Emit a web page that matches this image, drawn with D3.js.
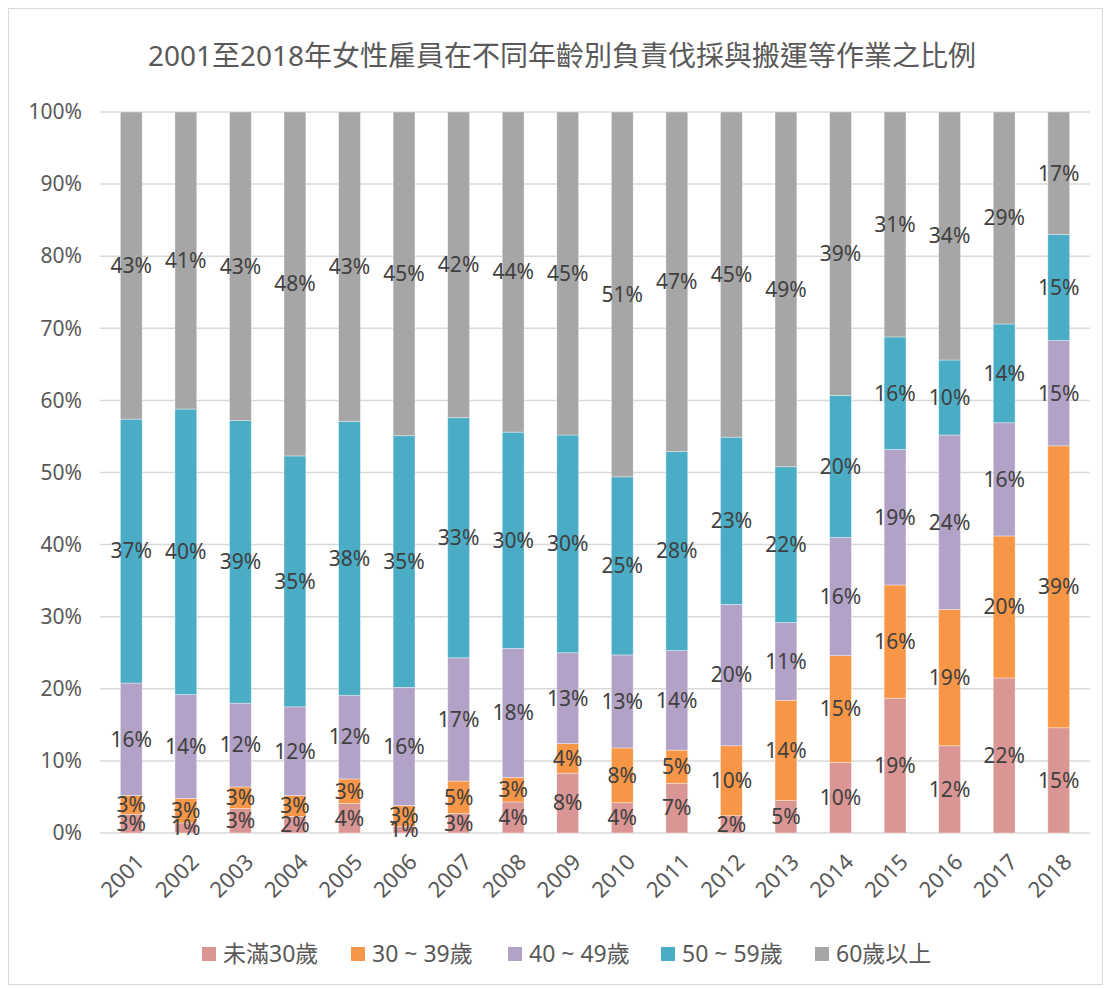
<!DOCTYPE html>
<html>
<head>
<meta charset="utf-8">
<script src="https://cdn.jsdelivr.net/npm/d3@7"></script>
<style>
  body { margin: 0; background: #fff; }
  svg text { font-family: "Noto Sans", "Noto Sans CJK TC", sans-serif; }
</style>
</head>
<body>
<div id="chart"></div>
<script>
const years = ["2001","2002","2003","2004","2005","2006","2007","2008","2009",
               "2010","2011","2012","2013","2014","2015","2016","2017","2018"];
const seriesNames = ["未滿30歲", "30 ~ 39歲", "40 ~ 49歲", "50 ~ 59歲", "60歲以上"];

// share of each age group per year (%)
const under30 = [2.6, 1.4, 3.4, 2.3, 4.1, 0.9, 2.7, 4.3, 8.3, 4.2, 6.9, 2.4, 4.5, 9.8, 18.7, 12.1, 21.5, 14.6];
const age30s  = [2.6, 3.4, 3.0, 2.9, 3.4, 2.9, 4.5, 3.4, 4.1, 7.6, 4.6, 9.7, 13.9, 14.8, 15.7, 18.9, 19.7, 39.1];
const age40s  = [15.6, 14.4, 11.6, 12.3, 11.6, 16.4, 17.1, 17.9, 12.6, 12.9, 13.8, 19.6, 10.8, 16.4, 18.8, 24.2, 15.7, 14.6];
const age50s  = [36.6, 39.6, 39.2, 34.8, 38.0, 34.9, 33.3, 30.0, 30.2, 24.7, 27.6, 23.2, 21.6, 19.7, 15.6, 10.4, 13.7, 14.7];
const over60  = [42.6, 41.2, 42.8, 47.7, 42.9, 44.9, 42.4, 44.4, 44.8, 50.6, 47.1, 45.1, 49.2, 39.3, 31.2, 34.4, 29.4, 17.0];

const yTicks = [0, 10, 20, 30, 40, 50, 60, 70, 80, 90, 100];
const colors = ["#d99694", "#f79646", "#b3a2c7", "#4bacc6", "#a6a6a6"];

const W = 1106, H = 988;
const plot = {left: 104, right: 1086, top: 112, bottom: 833};

const data = years.map((y, i) => ({
  year: y, s0: under30[i], s1: age30s[i], s2: age40s[i], s3: age50s[i], s4: over60[i]
}));
const keys = ["s0","s1","s2","s3","s4"];

const svg = d3.select("#chart").append("svg")
  .attr("width", W).attr("height", H);

svg.append("rect")
  .attr("x", 8.5).attr("y", 8.5).attr("width", W - 12).attr("height", H - 12)
  .attr("fill", "#fff").attr("stroke", "#d9d9d9").attr("stroke-width", 1);

svg.append("text")
  .attr("x", 562).attr("y", 66)
  .attr("text-anchor", "middle")
  .attr("font-size", 28)
  .attr("fill", "#595959")
  .text("2001至2018年女性雇員在不同年齡別負責伐採與搬運等作業之比例");

const x = d3.scaleBand().domain(years).range([plot.left, plot.right]).paddingInner(0.6).paddingOuter(0.3);
const y = d3.scaleLinear().domain([0, 100]).range([plot.bottom, plot.top]);

// gridlines
svg.append("g")
  .selectAll("line")
  .data(yTicks)
  .join("line")
  .attr("x1", 100).attr("x2", 1090)
  .attr("y1", d => y(d)).attr("y2", d => y(d))
  .attr("stroke", "#d9d9d9").attr("stroke-width", 1.5);

// y axis
const yAxis = svg.append("g")
  .attr("transform", "translate(82,0)")
  .call(d3.axisLeft(y).tickValues(yTicks).tickFormat(d => d + "%").tickSize(0).tickPadding(0));
yAxis.select(".domain").remove();
yAxis.selectAll("text").attr("font-size", 21).attr("fill", "#595959")
  .style("font-family", '"Noto Sans", sans-serif');

// x axis
const xAxis = svg.append("g")
  .attr("transform", "translate(0," + plot.bottom + ")")
  .call(d3.axisBottom(x).tickSize(0).tickPadding(0));
xAxis.select(".domain").remove();
xAxis.selectAll("text")
  .attr("font-size", 22).attr("fill", "#595959")
  .attr("text-anchor", "end")
  .attr("dy", "0.35em")
  .attr("transform", "translate(9,25) rotate(-45)")
  .style("font-family", '"Noto Sans", sans-serif');

const stack = d3.stack().keys(keys);
const series = stack(data);

const groups = svg.append("g").selectAll("g")
  .data(series)
  .join("g")
  .attr("fill", (d, i) => colors[i]);

groups.selectAll("rect")
  .data(d => d)
  .join("rect")
  .attr("x", d => x(d.data.year))
  .attr("width", x.bandwidth())
  .attr("y", d => y(d[1]))
  .attr("height", d => y(d[0]) - y(d[1]))
  .attr("stroke", "#ffffff").attr("stroke-opacity", 0.45).attr("stroke-width", 0.8);

// data labels
const labels = svg.append("g");
series.forEach((s, si) => {
  labels.selectAll(null)
    .data(s)
    .join("text")
    .attr("x", d => x(d.data.year) + x.bandwidth() / 2)
    .attr("y", d => (y(d[0]) + y(d[1])) / 2)
    .attr("dy", "0.35em")
    .attr("text-anchor", "middle")
    .attr("font-size", 21)
    .attr("fill", "#404040")
    .text(d => Math.round(d[1] - d[0]) + "%");
});

// legend
const legendX = [202, 351, 508, 661, 815];
const legend = svg.append("g").selectAll("g")
  .data(seriesNames)
  .join("g")
  .attr("transform", (d, i) => "translate(" + legendX[i] + ",954)");
legend.append("rect")
  .attr("x", 0).attr("y", -7).attr("width", 14).attr("height", 14)
  .attr("fill", (d, i) => colors[i]);
legend.append("text")
  .attr("x", 21).attr("dy", "0.35em")
  .attr("font-size", 23).attr("fill", "#595959")
  .text(d => d);
</script>
</body>
</html>
